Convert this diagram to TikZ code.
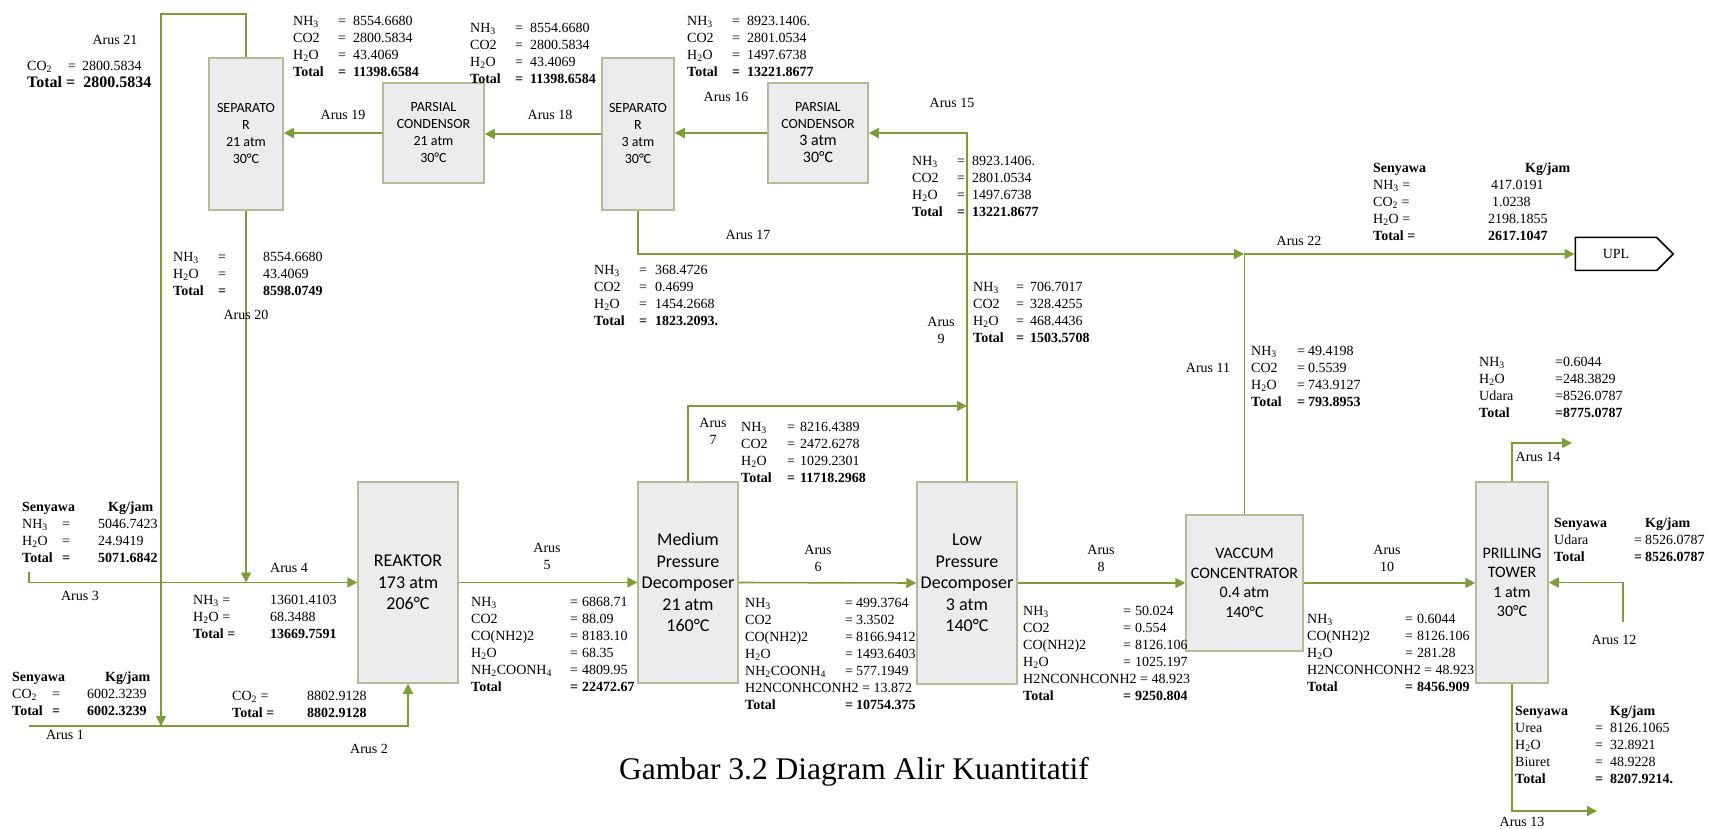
\documentclass[tikz,border=0pt]{standalone}
\usepackage{fontspec}
\setmainfont{Liberation Serif}
\newfontfamily\boxfont{Carlito}
\usetikzlibrary{arrows.meta,positioning,shapes.symbols}
\definecolor{flowgreen}{RGB}{125,158,55}
\definecolor{boxline}{RGB}{178,188,150}
\definecolor{boxfill}{RGB}{236,236,236}
\newcommand{\nht}{NH\textsubscript{3}}
\newcommand{\hto}{H\textsubscript{2}O}
\newcommand{\cod}{CO\textsubscript{2}}
\newcommand{\carb}{NH\textsubscript{2}COONH\textsubscript{4}}
\tikzset{unit/.style={rectangle,draw=boxline,fill=boxfill,line width=1.5pt,inner sep=0pt,align=center,font=\boxfont\fontsize{14}{17}\selectfont}}
\tikzset{unit2/.style={unit,font=\boxfont\fontsize{18}{21.5}\selectfont}}
\tikzset{unit3/.style={unit,font=\boxfont\fontsize{16}{19.5}\selectfont}}
\tikzset{flow/.style={draw=flowgreen,line width=1.6pt,-{Triangle[length=10pt,width=10pt]}}}
\tikzset{flowline/.style={draw=flowgreen,line width=1.6pt}}
\tikzset{lab/.style={font=\fontsize{14}{17}\selectfont,inner sep=0pt,align=center}}
\tikzset{datatab/.style={font=\fontsize{14}{17}\selectfont,inner sep=0pt,anchor=north west}}

\begin{document}
\begin{tikzpicture}[x=1pt,y=-1pt]
		\useasboundingbox (0,0) rectangle (1709,829);
		%%units
		\node at (246,134) [unit,minimum width=74pt,minimum height=152pt] (1) {SEPARATO\\R\\21 atm\\30°C};
		\node at (433.5,133) [unit,minimum width=101pt,minimum height=100pt] (2) {PARSIAL\\CONDENSOR\\21 atm\\30°C};
		\node at (638,134) [unit,minimum width=72pt,minimum height=152pt] (3) {SEPARATO\\R\\3 atm\\30°C};
		\node at (818,133) [unit,minimum width=100pt,minimum height=100pt] (4) {PARSIAL\\CONDENSOR\\{\fontsize{16}{19}\selectfont 3 atm}\\{\fontsize{16}{19}\selectfont 30°C}};
		\node at (408,582.5) [unit2,minimum width=100pt,minimum height=201pt] (5) {REAKTOR\\173 atm\\206°C};
		\node at (688,582.5) [unit2,minimum width=100pt,minimum height=201pt] (6) {Medium\\Pressure\\Decomposer\\21 atm\\160°C};
		\node at (967,583) [unit2,minimum width=100pt,minimum height=202pt] (7) {Low\\Pressure\\Decomposer\\3 atm\\140°C};
		\node at (1244.5,583) [unit3,minimum width=117pt,minimum height=136pt] (8) {VACCUM\\CONCENTRATOR\\0.4 atm\\140°C};
		\node at (1512,582.5) [unit3,minimum width=72pt,minimum height=201pt] (9) {PRILLING\\TOWER\\1 atm\\30°C};
		\node at (1616,254) [signal,signal to=east,draw=black,line width=1.5pt,minimum width=98pt,minimum height=33pt,inner sep=0pt,font=\fontsize{14}{17}\selectfont] (10) {UPL};
		
		%%bends
		\coordinate (c21) at (161,14);
		\coordinate (c1) at (161,726);
		\coordinate (c1s) at (29,726);
		\coordinate (c3) at (29,572);
		\coordinate (c7) at (967,406);
		\coordinate (c22) at (1244,254);
		\coordinate (c12) at (1623,622);
		\coordinate (c14) at (1572,443);
		\coordinate (c13) at (1597,811);
		
		%%streams
		\draw [flow] (1.north) |- (c21) -- (c1);
		\draw [flow] (c1s) -| (5.south);
		\draw [flow] (c3) |- (5.west);
		\draw [flow] (1.south) -- (1.south |- 5.west);
		\draw [flow] (2.west) -- (2.west -| 1.east);
		\draw [flow] (3.west) -- (3.west -| 2.east);
		\draw [flow] (4.west) -- (4.west -| 3.east);
		\draw [flow] (7.north) -- (7.north |- 4.east) -- (4.east);
		\draw [flow] (6.north) |- (c7);
		\draw [flow] (3.south) |- (c22);
		\draw [flowline] (8.north) -- (8.north |- c22);
		\draw [flow] (c22) -- (10.west);
		\draw [flow] (5.east) -- (6.west);
		\draw [flow] (6.east) -- (7.west);
		\draw [flow] (7.east) -- (8.west);
		\draw [flow] (8.east) -- (8.east -| 9.west);
		\draw [flow] (c12) |- (9.east);
		\draw [flow] (9.north) |- (c14);
		\draw [flow] (9.south) |- (c13);
		
		%%stream names
		\node at (115,40) [lab] (a21) {Arus 21};
		\node at (343,115) [lab] (a19) {Arus 19};
		\node at (550,115) [lab] (a18) {Arus 18};
		\node at (726,97) [lab] (a16) {Arus 16};
		\node at (952,103) [lab] (a15) {Arus 15};
		\node at (748,235) [lab] (a17) {Arus 17};
		\node at (1299,241) [lab] (a22) {Arus 22};
		\node at (246,315) [lab] (a20) {Arus 20};
		\node at (941,330) [lab] (a9) {Arus\\9};
		\node at (713,431) [lab] (a7) {Arus\\7};
		\node at (1208,368) [lab] (a11) {Arus 11};
		\node at (289,568) [lab] (a4) {Arus 4};
		\node at (80,596) [lab] (a3) {Arus 3};
		\node at (65,735) [lab] (a1) {Arus 1};
		\node at (369,749) [lab] (a2) {Arus 2};
		\node at (547,556) [lab] (a5) {Arus\\5};
		\node at (818,558) [lab] (a6) {Arus\\6};
		\node at (1101,558) [lab] (a8) {Arus\\8};
		\node at (1387,558) [lab] (a10) {Arus\\10};
		\node at (1614,640) [lab] (a12) {Arus 12};
		\node at (1538,457) [lab] (a14) {Arus 14};
		\node at (1522,822) [lab] (a13) {Arus 13};
		
		%%flow rates
		\node at (27,58) [datatab] (t21) {\begin{tabular}{@{}p{41pt}@{}p{14pt}@{}l@{}}
			\cod & = & 2800.5834\\
			\multicolumn{3}{@{}l@{}}{\fontsize{16}{19}\selectfont\bfseries Total = \ 2800.5834}
		\end{tabular}};
		\node at (293,13) [datatab] (t19) {\begin{tabular}{@{}p{45pt}@{}p{15pt}@{}l@{}}
			\nht & = & 8554.6680\\ CO2 & = & 2800.5834\\ \hto & = & 43.4069\\
			\textbf{Total} & \textbf{=} & \textbf{11398.6584}
		\end{tabular}};
		\node at (470,20) [datatab] (t18) {\begin{tabular}{@{}p{45pt}@{}p{15pt}@{}l@{}}
			\nht & = & 8554.6680\\ CO2 & = & 2800.5834\\ \hto & = & 43.4069\\
			\textbf{Total} & \textbf{=} & \textbf{11398.6584}
		\end{tabular}};
		\node at (687,13) [datatab] (t16) {\begin{tabular}{@{}p{45pt}@{}p{15pt}@{}l@{}}
			\nht & = & 8923.1406.\\ CO2 & = & 2801.0534\\ \hto & = & 1497.6738\\
			\textbf{Total} & \textbf{=} & \textbf{13221.8677}
		\end{tabular}};
		\node at (912,153) [datatab] (t15) {\begin{tabular}{@{}p{45pt}@{}p{15pt}@{}l@{}}
			\nht & = & 8923.1406.\\ CO2 & = & 2801.0534\\ \hto & = & 1497.6738\\
			\textbf{Total} & \textbf{=} & \textbf{13221.8677}
		\end{tabular}};
		\node at (594,262) [datatab] (t17) {\begin{tabular}{@{}p{45pt}@{}p{16pt}@{}l@{}}
			\nht & = & 368.4726\\ CO2 & = & 0.4699\\ \hto & = & 1454.2668\\
			\textbf{Total} & \textbf{=} & \textbf{1823.2093.}
		\end{tabular}};
		\node at (973,279) [datatab] (t9) {\begin{tabular}{@{}p{43pt}@{}p{14pt}@{}l@{}}
			\nht & = & 706.7017\\ CO2 & = & 328.4255\\ \hto & = & 468.4436\\
			\textbf{Total} & \textbf{=} & \textbf{1503.5708}
		\end{tabular}};
		\node at (1373,160) [datatab] (t22) {\begin{tabular}{@{}p{115pt}@{}l@{}}
			\textbf{Senyawa} & \hspace{37pt}\textbf{Kg/jam}\\
			\nht\ = & \hspace{3pt}417.0191\\ \cod\ = & \hspace{4pt}1.0238\\ \hto\ = & 2198.1855\\
			\textbf{Total =} & \textbf{2617.1047}
		\end{tabular}};
		\node at (1251,343) [datatab] (t11) {\begin{tabular}{@{}p{46pt}@{}p{11pt}@{}l@{}}
			\nht & = & 49.4198\\ CO2 & = & 0.5539\\ \hto & = & 743.9127\\
			\textbf{Total} & \textbf{=} & \textbf{793.8953}
		\end{tabular}};
		\node at (1479,354) [datatab] (t14) {\begin{tabular}{@{}p{76pt}@{}l@{}}
			\nht & =0.6044\\ \hto & =248.3829\\ Udara & =8526.0787\\
			\textbf{Total} & \textbf{=8775.0787}
		\end{tabular}};
		\node at (1554,515) [datatab] (t12) {\begin{tabular}{@{}p{80pt}@{}p{11pt}@{}l@{}}
			\textbf{Senyawa} & & \textbf{Kg/jam}\\ Udara & = & 8526.0787\\
			\textbf{Total} & \textbf{=} & \textbf{8526.0787}
		\end{tabular}};
		\node at (1307,611) [datatab] (t10) {\begin{tabular}{@{}p{98pt}@{}p{12pt}@{}l@{}}
			\nht & = & 0.6044\\ CO(NH2)2 & = & 8126.106\\ \hto & = & 281.28\\
			\multicolumn{3}{@{}l@{}}{H2NCONHCONH2 = 48.923}\\
			\textbf{Total} & \textbf{=} & \textbf{8456.909}
		\end{tabular}};
		\node at (1515,703) [datatab] (t13) {\begin{tabular}{@{}p{80pt}@{}p{15pt}@{}l@{}}
			\textbf{Senyawa} & & \textbf{Kg/jam}\\ Urea & = & 8126.1065\\ \hto & = & 32.8921\\
			Biuret & = & 48.9228\\ \textbf{Total} & \textbf{=} & \textbf{8207.9214.}
		\end{tabular}};
		\node at (1023,603) [datatab] (t8) {\begin{tabular}{@{}p{100pt}@{}p{12pt}@{}l@{}}
			\nht & = & 50.024\\ CO2 & = & 0.554\\ CO(NH2)2 & = & 8126.106\\ \hto & = & 1025.197\\
			\multicolumn{3}{@{}l@{}}{H2NCONHCONH2 = 48.923}\\
			\textbf{Total} & \textbf{=} & \textbf{9250.804}
		\end{tabular}};
		\node at (745,595) [datatab] (t6) {\begin{tabular}{@{}p{100pt}@{}p{11pt}@{}l@{}}
			\nht & = & 499.3764\\ CO2 & = & 3.3502\\ CO(NH2)2 & = & 8166.9412\\ \hto & = & 1493.6403\\
			\carb & = & 577.1949\\ \multicolumn{3}{@{}l@{}}{H2NCONHCONH2 = 13.872}\\
			\textbf{Total} & \textbf{=} & \textbf{10754.375}
		\end{tabular}};
		\node at (471,594) [datatab] (t5) {\begin{tabular}{@{}p{99pt}@{}p{12pt}@{}l@{}}
			\nht & = & 6868.71\\ CO2 & = & 88.09\\ CO(NH2)2 & = & 8183.10\\ \hto & = & 68.35\\
			\carb & = & 4809.95\\ \textbf{Total} & \textbf{=} & \textbf{22472.67}
		\end{tabular}};
		\node at (741,419) [datatab] (t7) {\begin{tabular}{@{}p{46pt}@{}p{13pt}@{}l@{}}
			\nht & = & 8216.4389\\ CO2 & = & 2472.6278\\ \hto & = & 1029.2301\\
			\textbf{Total} & \textbf{=} & \textbf{11718.2968}
		\end{tabular}};
		\node at (22,499) [datatab] (t3) {\begin{tabular}{@{}p{40pt}@{}p{36pt}@{}l@{}}
			\textbf{Senyawa} & & \hspace{10pt}\textbf{Kg/jam}\\ \nht & = & 5046.7423\\ \hto & = & 24.9419\\
			\textbf{Total} & \textbf{=} & \textbf{5071.6842}
		\end{tabular}};
		\node at (193,592) [datatab] (t4) {\begin{tabular}{@{}p{77pt}@{}l@{}}
			\nht\ = & 13601.4103\\ \hto\ = & 68.3488\\ \textbf{Total =} & \textbf{13669.7591}
		\end{tabular}};
		\node at (12,669) [datatab] (t1) {\begin{tabular}{@{}p{40pt}@{}p{35pt}@{}l@{}}
			\textbf{Senyawa} & & \hspace{18pt}\textbf{Kg/jam}\\ \cod & = & 6002.3239\\
			\textbf{Total} & \textbf{=} & \textbf{6002.3239}
		\end{tabular}};
		\node at (232,688) [datatab] (t2) {\begin{tabular}{@{}p{75pt}@{}l@{}}
			\cod\ = & 8802.9128\\ \textbf{Total =} & \textbf{8802.9128}
		\end{tabular}};
		\node at (173,249) [datatab] (t20) {\begin{tabular}{@{}p{45pt}@{}p{45pt}@{}l@{}}
			\nht & = & 8554.6680\\ \hto & = & 43.4069\\
			\textbf{Total} & \textbf{=} & \textbf{8598.0749}
		\end{tabular}};
		
		%%caption
		\node at (854,772) [font=\fontsize{31.5}{38}\selectfont,inner sep=0pt] (cap) {Gambar 3.2 Diagram Alir Kuantitatif};
	\end{tikzpicture}
\end{document}
